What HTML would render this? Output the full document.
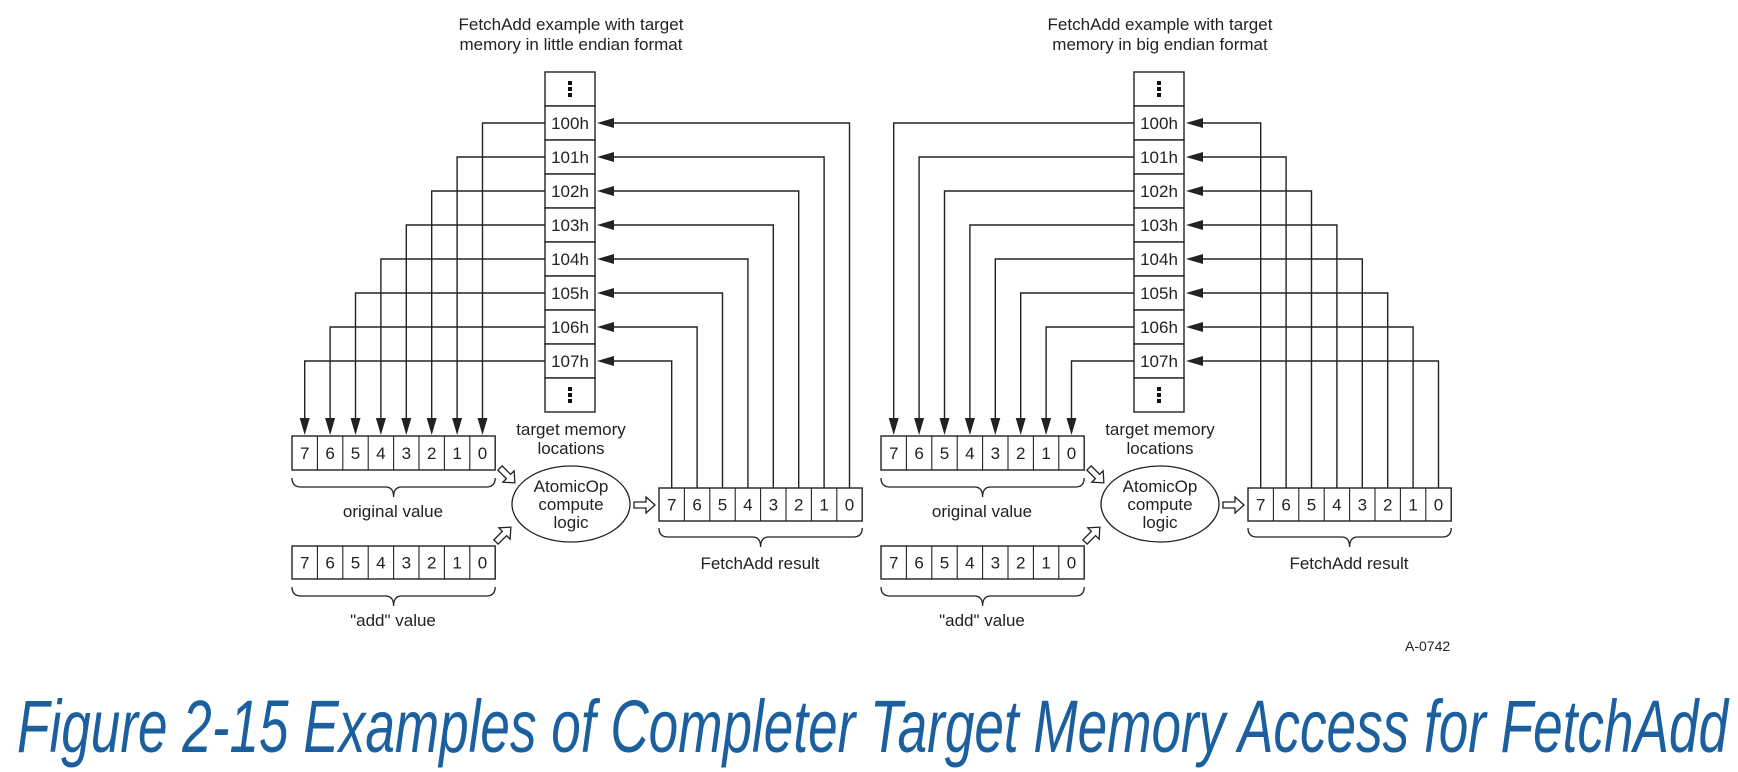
<!DOCTYPE html>
<html><head><meta charset="utf-8"><style>
html,body{margin:0;padding:0;background:#fff;}
svg{display:block;}
text{font-family:"Liberation Sans",Arial,sans-serif;fill:#222;}
</style></head><body>
<svg width="1738" height="772" viewBox="0 0 1738 772" xmlns="http://www.w3.org/2000/svg">
<defs>
<g id="harrow"><polygon points="0,-3 12,-3 12,-8 21,0 12,8 12,3 0,3" fill="#fff" stroke="#222" stroke-width="1.3"/></g>
</defs>
<g id="L"></g>
<g id="R"></g>
<text x="1405" y="651" font-size="14">A-0742</text>
<text x="17" y="752" font-size="74" font-style="italic" textLength="1711" lengthAdjust="spacingAndGlyphs" style="fill:#1c5f9e">Figure 2-15 Examples of Completer Target Memory Access for FetchAdd</text>
</svg>
<script>
function build(id,off,be,title2){
  const g=document.getElementById(id);let s='';
  const mx=545+off,mw=50,top=72,rh=34;
  s+=`<text x="${571+off}" y="30" font-size="17" text-anchor="middle">FetchAdd example with target</text>`;
  s+=`<text x="${571+off}" y="50" font-size="17" text-anchor="middle">${title2}</text>`;
  for(let r=0;r<10;r++){
    const y=top+r*rh;
    s+=`<rect x="${mx}" y="${y}" width="${mw}" height="${rh}" fill="#fff" stroke="#222" stroke-width="1.4"/>`;
    if(r==0||r==9){
      for(let d=0;d<3;d++) s+=`<rect x="${mx+23}" y="${y+9+d*6}" width="4" height="4" fill="#111"/>`;
    } else s+=`<text x="${mx+25}" y="${y+23}" font-size="17" text-anchor="middle">10${r-1}h</text>`;
  }
  const cw=25.4;
  function box(x0,y0,h){
    let t=`<rect x="${x0}" y="${y0}" width="${cw*8}" height="${h}" fill="#fff" stroke="#222" stroke-width="1.4"/>`;
    for(let i=0;i<8;i++){
      if(i>0)t+=`<line x1="${x0+cw*i}" y1="${y0}" x2="${x0+cw*i}" y2="${y0+h}" stroke="#222" stroke-width="1.1"/>`;
      t+=`<text x="${x0+cw*(i+0.5)}" y="${y0+h/2+6}" font-size="17" text-anchor="middle">${7-i}</text>`;
    }
    return t;
  }
  function brace(x0,x1,y){
    const m=(x0+x1)/2;
    return `<path d="M${x0} ${y} q0 9 9 9 H${m-8} q8 0 8 10 q0 -10 8 -10 H${x1-9} q9 0 9 -9" fill="none" stroke="#222" stroke-width="1.3"/>`;
  }
  const ox=292+off, rx=659+off;
  for(let k=0;k<8;k++){
    const ry=top+rh*(k+1)+rh/2;
    const li=be?k:7-k, ri=be?k:7-k;
    const lx=ox+cw*(li+0.5);
    s+=`<polyline points="${mx},${ry} ${lx},${ry} ${lx},${421}" fill="none" stroke="#222" stroke-width="1.4"/>`;
    s+=`<polygon points="${lx-5},418 ${lx+5},418 ${lx},435" fill="#222"/>`;
    const xr=rx+cw*(ri+0.5);
    s+=`<polyline points="${xr},488 ${xr},${ry} ${mx+mw+14},${ry}" fill="none" stroke="#222" stroke-width="1.4"/>`;
    s+=`<polygon points="${mx+mw+2},${ry} ${mx+mw+19},${ry-5} ${mx+mw+19},${ry+5}" fill="#222"/>`;
  }
  s+=box(ox,436,34)+brace(ox,ox+cw*8,478);
  s+=`<text x="${393+off}" y="517" font-size="17" text-anchor="middle">original value</text>`;
  s+=box(ox,546,33)+brace(ox,ox+cw*8,587);
  s+=`<text x="${393+off}" y="626" font-size="17" text-anchor="middle">"add" value</text>`;
  s+=box(rx,488,33)+brace(rx,rx+cw*8,528);
  s+=`<text x="${760+off}" y="569" font-size="17" text-anchor="middle">FetchAdd result</text>`;
  s+=`<text x="${571+off}" y="435" font-size="17" text-anchor="middle">target memory</text>`;
  s+=`<text x="${571+off}" y="454" font-size="17" text-anchor="middle">locations</text>`;
  s+=`<ellipse cx="${571+off}" cy="504" rx="59" ry="38" fill="#fff" stroke="#222" stroke-width="1.3"/>`;
  s+=`<text x="${571+off}" y="492" font-size="17" text-anchor="middle">AtomicOp</text>`;
  s+=`<text x="${571+off}" y="510" font-size="17" text-anchor="middle">compute</text>`;
  s+=`<text x="${571+off}" y="528" font-size="17" text-anchor="middle">logic</text>`;
  s+=`<use href="#harrow" transform="translate(${500+off},468) rotate(45)"/>`;
  s+=`<use href="#harrow" transform="translate(${496+off},542) rotate(-45)"/>`;
  s+=`<use href="#harrow" transform="translate(${634+off},505)"/>`;
  g.innerHTML=s;
}
build('L',0,false,'memory in little endian format');
build('R',589,true,'memory in big endian format');
</script>
</body></html>
